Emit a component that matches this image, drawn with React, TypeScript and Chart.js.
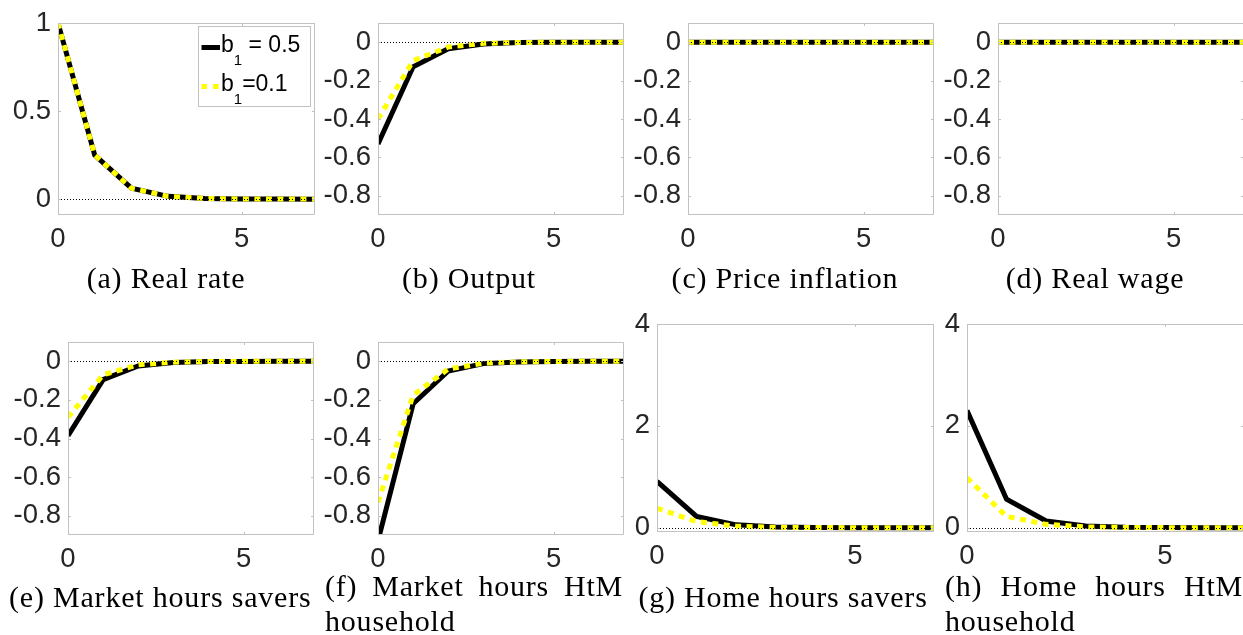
import React, { useEffect, useRef } from "react";
import { Chart, registerables } from "chart.js";

Chart.register(...registerables);

// ---------------- data ----------------
const horizon = [0, 1, 2, 3, 4, 5, 6, 7];
const xTicks = [0, 5];

const realRateB05 = [1, 0.25, 0.062, 0.016, 0.004, 0.001, 0.0003, 0.0001];
const realRateB01 = [1, 0.25, 0.062, 0.016, 0.004, 0.001, 0.0003, 0.0001];
const outputB05 = [-0.53, -0.128, -0.034, -0.009, -0.002, -0.0005, -0.0001, 0];
const outputB01 = [-0.4, -0.096, -0.025, -0.006, -0.0015, -0.0004, -0.0001, 0];
const inflationB05 = [0, 0, 0, 0, 0, 0, 0, 0];
const inflationB01 = [0, 0, 0, 0, 0, 0, 0, 0];
const wageB05 = [0, 0, 0, 0, 0, 0, 0, 0];
const wageB01 = [0, 0, 0, 0, 0, 0, 0, 0];
const mktSaversB05 = [-0.385, -0.095, -0.024, -0.006, -0.0015, -0.0004, -0.0001, 0];
const mktSaversB01 = [-0.29, -0.07, -0.018, -0.0045, -0.001, -0.0003, 0, 0];
const mktHtmB05 = [-0.93, -0.22, -0.05, -0.012, -0.003, -0.0008, -0.0002, 0];
const mktHtmB01 = [-0.73, -0.175, -0.04, -0.01, -0.0025, -0.0006, -0.0001, 0];
const homeSaversB05 = [0.91, 0.22, 0.055, 0.014, 0.0035, 0.0009, 0.0002, 0];
const homeSaversB01 = [0.38, 0.12, 0.03, 0.007, 0.0018, 0.0004, 0.0001, 0];
const homeHtmB05 = [2.3, 0.56, 0.13, 0.033, 0.008, 0.002, 0.0005, 0.0001];
const homeHtmB01 = [0.98, 0.22, 0.065, 0.015, 0.004, 0.001, 0.0002, 0];
const zeroLine = [0, 0, 0, 0, 0, 0, 0, 0];

const yTicksRate = [0, 0.5, 1];
const yTicksNeg = [-0.8, -0.6, -0.4, -0.2, 0];
const yTicksHome = [0, 2, 4];

const legendBase = ["b", "b"];
const legendSub = ["1", "1"];
const legendRest = [" = 0.5", "=0.1"];

const captions = [
  "(a) Real rate",
  "(b) Output",
  "(c) Price inflation",
  "(d) Real wage",
  "(e) Market hours savers",
  "(f) Market hours HtM household",
  "(g) Home hours savers",
  "(h) Home hours HtM household",
];

// ---------------- layout / style ----------------
const YW = 70; // y axis area width
const PT = 16; // top padding
const PR = 12; // right padding
const XH = 50; // x axis area height
const BOX = "#c2c2c2";
const TICK_COLOR = "#262626";
const TICK_FONT = { family: "'Liberation Sans', Arial, sans-serif", size: 27.5 };
const BLACK = "#000000";
const YELLOW = "#ffff00";

type Spec = {
  b05: number[];
  b01: number[];
  yMin: number;
  yMax: number;
  yTicks: number[];
  rect: [number, number, number, number];
  legend?: boolean;
};

const panels: Spec[] = [
  { b05: realRateB05, b01: realRateB01, yMin: -0.09, yMax: 1, yTicks: yTicksRate, rect: [58, 23, 315, 215], legend: true },
  { b05: outputB05, b01: outputB01, yMin: -0.9, yMax: 0.1, yTicks: yTicksNeg, rect: [378, 23, 624, 215] },
  { b05: inflationB05, b01: inflationB01, yMin: -0.9, yMax: 0.1, yTicks: yTicksNeg, rect: [688, 23, 934, 215] },
  { b05: wageB05, b01: wageB01, yMin: -0.9, yMax: 0.1, yTicks: yTicksNeg, rect: [998, 23, 1244, 215] },
  { b05: mktSaversB05, b01: mktSaversB01, yMin: -0.9, yMax: 0.1, yTicks: yTicksNeg, rect: [68, 342, 314, 535] },
  { b05: mktHtmB05, b01: mktHtmB01, yMin: -0.9, yMax: 0.1, yTicks: yTicksNeg, rect: [378, 342, 624, 535] },
  { b05: homeSaversB05, b01: homeSaversB01, yMin: -0.085, yMax: 4, yTicks: yTicksHome, rect: [657, 324, 934, 532] },
  { b05: homeHtmB05, b01: homeHtmB01, yMin: -0.085, yMax: 4, yTicks: yTicksHome, rect: [967, 324, 1244, 532] },
];

type CapBox = { left: number; width: number; top: number; justify?: boolean };
const captionBoxes: CapBox[] = [
  { left: 16, width: 300, top: 259.5 },
  { left: 319, width: 300, top: 259.5 },
  { left: 635, width: 300, top: 259.5 },
  { left: 945, width: 300, top: 259.5 },
  { left: 9, width: 300, top: 578.5 },
  { left: 325, width: 298, top: 567.5, justify: true },
  { left: 633, width: 300, top: 578.5 },
  { left: 945, width: 298, top: 567.5, justify: true },
];

const pts = (vals: number[]) => vals.map((v, i) => ({ x: horizon[i], y: v }));

function Panel({ spec }: { spec: Spec }) {
  const ref = useRef<HTMLCanvasElement | null>(null);
  const [L, T, R, B] = spec.rect;
  const W = YW + (R - L) + PR;
  const H = PT + (B - T) + XH;
  const ox = L - YW;
  const oy = T - PT;

  useEffect(() => {
    const canvas = ref.current;
    if (!canvas) return;

    const framePlugin = {
      id: "frame",
      afterDatasetsDraw(chart: any) {
        const { ctx, chartArea, scales } = chart;
        const { left, right, top, bottom } = chartArea;
        ctx.save();
        // zero reference line (dotted, on top of the series)
        ctx.beginPath();
        ctx.rect(left, top, right - left, bottom - top);
        ctx.clip();
        ctx.strokeStyle = BLACK;
        ctx.lineWidth = 1;
        ctx.setLineDash([1, 2]);
        ctx.beginPath();
        zeroLine.forEach((v, i) => {
          const px = scales.x.getPixelForValue(horizon[i]);
          const py = Math.round(scales.y.getPixelForValue(v)) + 0.5;
          if (i === 0) ctx.moveTo(px, py);
          else ctx.lineTo(px, py);
        });
        ctx.stroke();
        ctx.setLineDash([]);
        ctx.restore();

        ctx.save();
        ctx.strokeStyle = BOX;
        ctx.lineWidth = 1;
        ctx.beginPath();
        ctx.rect(left + 0.5, top + 0.5, right - left - 1, bottom - top - 1);
        ctx.stroke();
        ctx.beginPath();
        for (const v of spec.yTicks) {
          const py = Math.round(scales.y.getPixelForValue(v)) + 0.5;
          ctx.moveTo(left, py);
          ctx.lineTo(left + 3, py);
          ctx.moveTo(right, py);
          ctx.lineTo(right - 3, py);
        }
        for (const v of xTicks) {
          const px = Math.round(scales.x.getPixelForValue(v)) + 0.5;
          ctx.moveTo(px, bottom);
          ctx.lineTo(px, bottom - 3);
          ctx.moveTo(px, top);
          ctx.lineTo(px, top + 3);
        }
        ctx.stroke();
        ctx.restore();
      },
    };

    const legendPlugin = {
      id: "customLegend",
      afterDraw(chart: any) {
        if (!spec.legend) return;
        const ctx = chart.ctx;
        ctx.save();
        const bx = 198.5 - ox;
        const by = 26.5 - oy;
        ctx.fillStyle = "#ffffff";
        ctx.fillRect(bx, by, 112, 80);
        ctx.strokeStyle = BOX;
        ctx.lineWidth = 1;
        ctx.strokeRect(bx, by, 112, 80);
        const rows = [
          { lineY: 47.5, base: 52, color: BLACK, dash: [] as number[] },
          { lineY: 86.5, base: 91, color: YELLOW, dash: [5.5, 6] },
        ];
        rows.forEach((r, i) => {
          ctx.beginPath();
          ctx.setLineDash(r.dash);
          ctx.strokeStyle = r.color;
          ctx.lineWidth = 5;
          ctx.lineCap = "butt";
          ctx.moveTo(201.5 - ox, r.lineY - oy);
          ctx.lineTo(220 - ox, r.lineY - oy);
          ctx.stroke();
          ctx.setLineDash([]);
          ctx.fillStyle = "#000000";
          ctx.textBaseline = "alphabetic";
          ctx.textAlign = "left";
          let x = 221 - ox;
          ctx.font = "23px 'Liberation Sans', Arial, sans-serif";
          ctx.fillText(legendBase[i], x, r.base - oy);
          x += ctx.measureText(legendBase[i]).width;
          ctx.font = "15px 'Liberation Sans', Arial, sans-serif";
          ctx.fillText(legendSub[i], x, r.base + 12.5 - oy);
          x += ctx.measureText(legendSub[i]).width;
          ctx.font = "23px 'Liberation Sans', Arial, sans-serif";
          ctx.fillText(legendRest[i], x, r.base - oy);
        });
        ctx.restore();
      },
    };

    const chart = new Chart(canvas, {
      type: "line",
      data: {
        datasets: [
          {
            label: "b1=0.1",
            data: pts(spec.b01),
            borderColor: YELLOW,
            borderWidth: 5,
            borderDash: [6, 5.5],
            borderCapStyle: "butt",
            borderJoinStyle: "miter",
            order: 1,
            clip: 0,
          },
          {
            label: "b1 = 0.5",
            data: pts(spec.b05),
            borderColor: BLACK,
            borderWidth: 5,
            borderCapStyle: "butt",
            borderJoinStyle: "miter",
            order: 2,
            clip: 0,
          },
        ],
      } as any,
      options: {
        responsive: false,
        animation: false,
        events: [],
        layout: { padding: { top: PT, right: PR, bottom: 0, left: 0 } },
        elements: { point: { radius: 0 }, line: { tension: 0 } },
        plugins: { legend: { display: false }, tooltip: { enabled: false } },
        scales: {
          x: {
            type: "linear",
            min: 0,
            max: 7,
            grid: { display: false, drawTicks: false },
            border: { display: false },
            ticks: {
              font: TICK_FONT,
              color: TICK_COLOR,
              padding: 8,
              autoSkip: false,
              maxRotation: 0,
              callback: (v: any) => String(v),
            },
            afterBuildTicks: (s: any) => {
              s.ticks = xTicks.map((v) => ({ value: v }));
            },
            afterFit: (s: any) => {
              s.height = XH;
              s.paddingLeft = 0;
              s.paddingRight = 0;
            },
          },
          y: {
            type: "linear",
            min: spec.yMin,
            max: spec.yMax,
            grid: { display: false, drawTicks: false },
            border: { display: false },
            ticks: {
              font: TICK_FONT,
              color: TICK_COLOR,
              padding: 7,
              autoSkip: false,
              callback: (v: any) => String(v),
            },
            afterBuildTicks: (s: any) => {
              s.ticks = spec.yTicks.map((v) => ({ value: v }));
            },
            afterFit: (s: any) => {
              s.width = YW;
              s.paddingTop = 0;
              s.paddingBottom = 0;
            },
          },
        },
      } as any,
      plugins: [framePlugin, legendPlugin],
    });
    return () => chart.destroy();
  }, []);

  return (
    <canvas
      ref={ref}
      width={W}
      height={H}
      style={{ position: "absolute", left: ox, top: oy, width: W, height: H }}
    />
  );
}

export default function App() {
  return (
    <div
      style={{
        position: "absolute",
        left: 0,
        top: 0,
        width: 1243,
        height: 635,
        overflow: "hidden",
        background: "#ffffff",
      }}
    >
      {panels.map((p, i) => (
        <Panel key={i} spec={p} />
      ))}
      {captions.map((c, i) => {
        const b = captionBoxes[i];
        return (
          <div
            key={"c" + i}
            style={{
              position: "absolute",
              left: b.left,
              top: b.top,
              width: b.width,
              fontFamily: "'Liberation Serif', 'Times New Roman', serif",
              fontSize: 30,
              lineHeight: "35px",
              letterSpacing: "0.8px",
              color: "#000",
              textAlign: b.justify ? "justify" : "center",
              whiteSpace: b.justify ? "normal" : "nowrap",
            }}
          >
            {c}
          </div>
        );
      })}
    </div>
  );
}
